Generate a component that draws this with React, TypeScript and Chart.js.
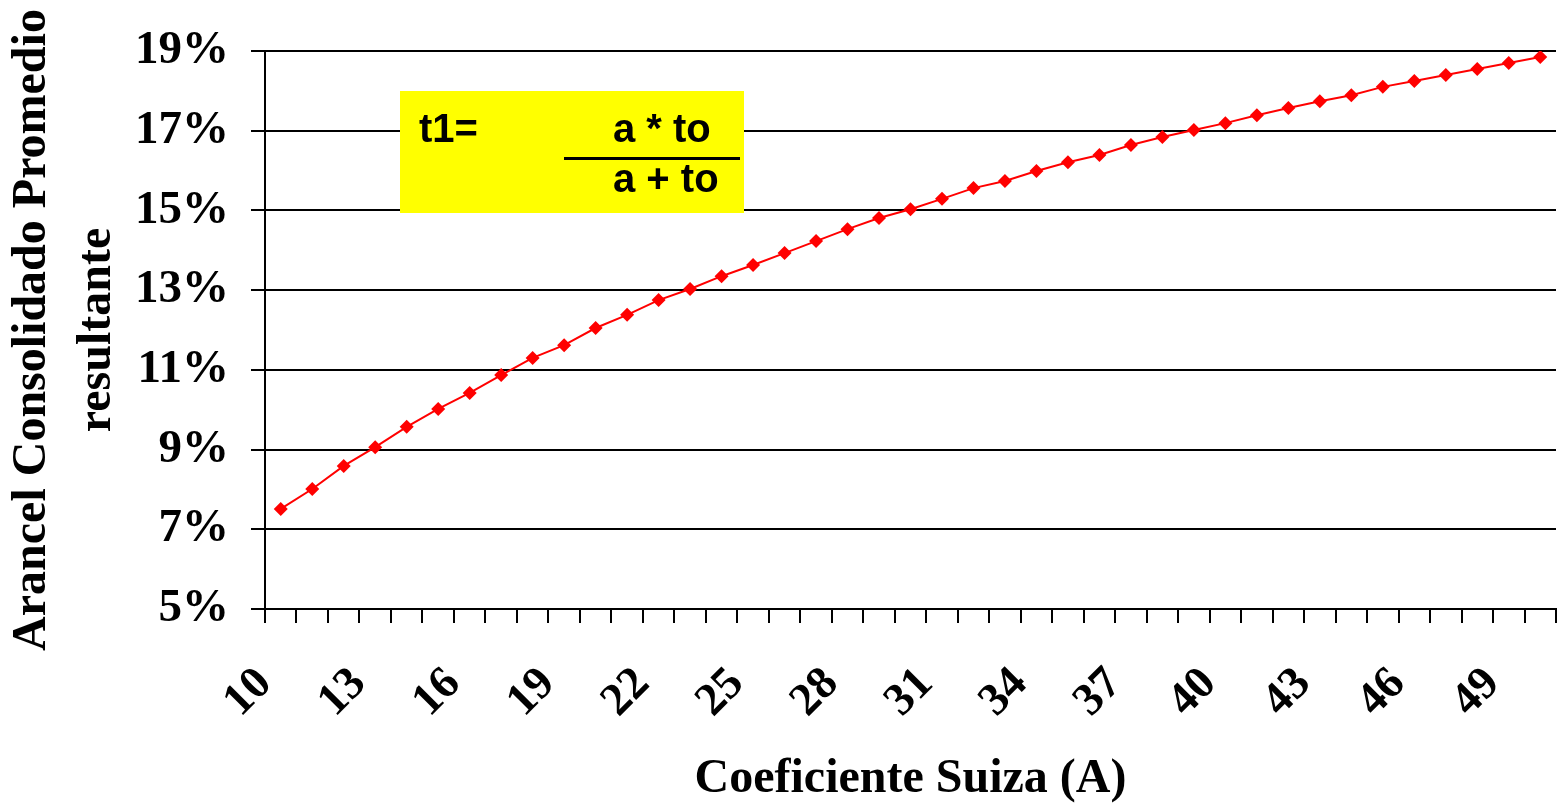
import React, { useEffect, useRef } from "react";
import { Chart, registerables } from "chart.js";

Chart.register(...registerables);

const categories: string[] = [
  "10","11","12","13","14","15","16","17","18","19",
  "20","21","22","23","24","25","26","27","28","29",
  "30","31","32","33","34","35","36","37","38","39",
  "40","41","42","43","44","45","46","47","48","49","50",
];

const arancelValues: number[] = [
  7.51, 8.01, 8.59, 9.06, 9.57, 10.02, 10.42, 10.87, 11.30, 11.62,
  12.05, 12.38, 12.75, 13.03, 13.35, 13.63, 13.93, 14.23, 14.53, 14.81,
  15.03, 15.29, 15.56, 15.74, 15.99, 16.21, 16.39, 16.64, 16.84, 17.02,
  17.19, 17.39, 17.57, 17.74, 17.89, 18.10, 18.25, 18.40, 18.55, 18.70, 18.85,
];

const yTickValues: number[] = [5, 7, 9, 11, 13, 15, 17, 19];

const xTitle = "Coeficiente Suiza (A)";
const yTitle: string[] = ["Arancel Consolidado Promedio", "resultante"];
const formulaLead = "t1=";
const formulaNum = "a * to";
const formulaDen = "a + to";

const SERIF = "'Liberation Serif', 'Times New Roman', serif";

const formulaPlugin = {
  id: "formulaBox",
  afterDraw(chart: any) {
    const ctx = chart.ctx;
    ctx.save();
    ctx.fillStyle = "#FFFF00";
    ctx.fillRect(400, 91, 344, 122);
    ctx.fillStyle = "#000";
    ctx.font = "bold 40px 'Liberation Sans', Arial, sans-serif";
    ctx.textBaseline = "alphabetic";
    ctx.textAlign = "left";
    ctx.fillText(formulaLead, 419, 142);
    ctx.fillText(formulaNum, 613, 142);
    ctx.fillText(formulaDen, 613, 192);
    ctx.fillRect(564, 157, 176, 3);
    ctx.restore();
  },
};

export default function App() {
  const ref = useRef<HTMLCanvasElement | null>(null);

  useEffect(() => {
    if (!ref.current) return;
    const chart = new Chart(ref.current, {
      type: "line",
      data: {
        labels: categories,
        datasets: [
          {
            data: arancelValues,
            borderColor: "#FF0000",
            backgroundColor: "#FF0000",
            borderWidth: 2,
            pointStyle: "rectRot",
            pointRadius: 7,
            pointBorderWidth: 0,
            tension: 0,
          },
        ],
      },
      options: {
        animation: false,
        responsive: false,
        maintainAspectRatio: false,
        layout: { autoPadding: false, padding: { top: 51, right: 2, left: 0, bottom: 0 } },
        plugins: { legend: { display: false }, tooltip: { enabled: false } },
        scales: {
          x: {
            type: "category",
            offset: true,
            grid: {
              offset: true,
              drawOnChartArea: false,
              drawTicks: true,
              tickLength: 14,
              color: "#000",
              lineWidth: 2,
            },
            border: { color: "#000", width: 2 },
            ticks: {
              autoSkip: false,
              minRotation: 45,
              maxRotation: 45,
              padding: 34,
              labelOffset: -16,
              color: "#000",
              font: { family: SERIF, size: 46, weight: "bold" },
              callback: (_v: any, i: number) => (i % 3 === 0 ? categories[i] : ""),
            },
            title: {
              display: true,
              text: xTitle,
              color: "#000",
              font: { family: SERIF, size: 48, weight: "bold" },
              padding: { top: 0, bottom: -4 },
            },
            afterFit: (s: any) => {
              s.height = 195;
              s.paddingLeft = 0;
              s.paddingRight = 0;
            },
          },
          y: {
            min: 5,
            max: 19,
            afterBuildTicks: (s: any) => {
              s.ticks = yTickValues.map((v) => ({ value: v }));
            },
            grid: {
              color: "#000",
              lineWidth: 2,
              tickLength: 14,
              drawTicks: true,
            },
            border: { color: "#000", width: 2 },
            ticks: {
              padding: 22,
              color: "#000",
              font: { family: SERIF, size: 47, weight: "bold" },
              callback: (v: any) => v + "%",
            },
            title: {
              display: true,
              text: yTitle,
              color: "#000",
              font: { family: SERIF, size: 48, weight: "bold", lineHeight: 1.35 },
              padding: { top: 0, bottom: 0 },
            },
            afterFit: (s: any) => {
              s.width = 265;
            },
          },
        },
      },
      plugins: [formulaPlugin],
    });
    return () => chart.destroy();
  }, []);

  return (
    <div style={{ position: "fixed", left: 0, top: 0, width: 1558, height: 804, background: "#fff" }}>
      <canvas ref={ref} width={1558} height={804} style={{ width: 1558, height: 804, display: "block" }} />
    </div>
  );
}
